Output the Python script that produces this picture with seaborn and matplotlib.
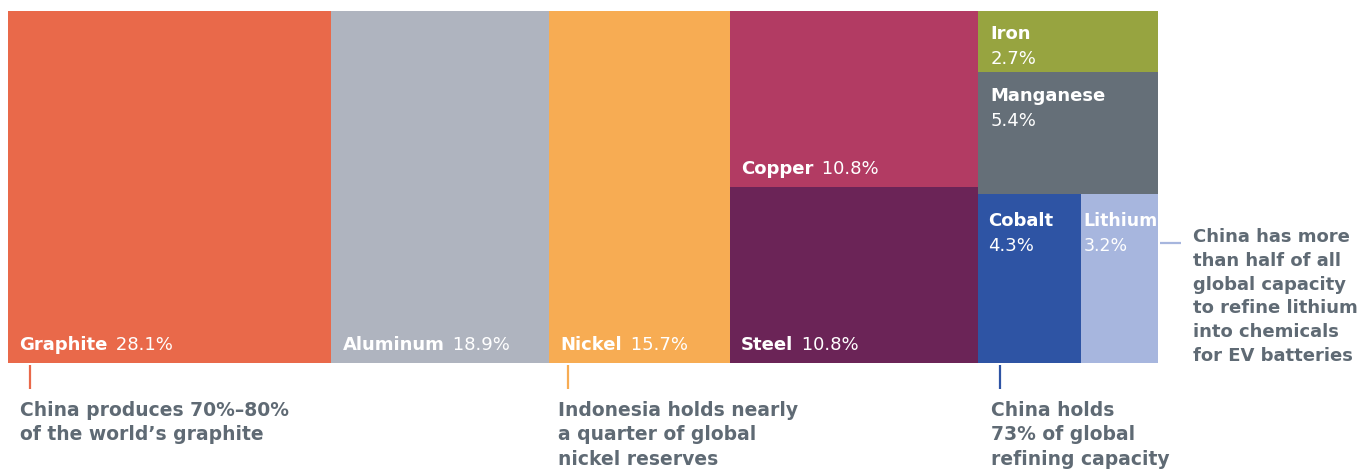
import matplotlib
matplotlib.use("Agg")
import matplotlib.pyplot as plt
import seaborn as sns

sns.set_theme(style="white")
plt.rcParams["font.family"] = ["DejaVu Sans"]

# Share of demand by material (percent)
materials = ["Graphite", "Aluminum", "Nickel", "Copper", "Steel",
             "Iron", "Manganese", "Cobalt", "Lithium"]
shares = [28.1, 18.9, 15.7, 10.8, 10.8, 2.7, 5.4, 4.3, 3.2]
colors = ["#E9694A", "#AFB4BF", "#F7AC53", "#B23B63", "#6B2457",
          "#97A440", "#656F78", "#2E54A4", "#A7B6DE"]

notes = {
    "Graphite": "China produces 70%–80%\nof the world’s graphite",
    "Nickel": "Indonesia holds nearly\na quarter of global\nnickel reserves",
    "Cobalt": "China holds\n73% of global\nrefining capacity",
    "Lithium": "China has more\nthan half of all\nglobal capacity\nto refine lithium\ninto chemicals\nfor EV batteries",
}

val = dict(zip(materials, shares))
col = dict(zip(materials, colors))

# Treemap layout: x in percent units, y from 0 (top) to 1 (bottom)
rects = {}
total = sum(shares)
x = 0.0
for m in ["Graphite", "Aluminum", "Nickel"]:
    rects[m] = (x, 0.0, val[m], 1.0)
    x += val[m]
cs = val["Copper"] + val["Steel"]
rects["Copper"] = (x, 0.0, cs, val["Copper"] / cs)
rects["Steel"] = (x, val["Copper"] / cs, cs, val["Steel"] / cs)
x += cs
top = val["Iron"] + val["Manganese"]
bot = val["Cobalt"] + val["Lithium"]
rw = top + bot
top_h = top / rw
rects["Iron"] = (x, 0.0, rw, top_h * val["Iron"] / top)
rects["Manganese"] = (x, top_h * val["Iron"] / top, rw, top_h * val["Manganese"] / top)
rects["Cobalt"] = (x, top_h, rw * val["Cobalt"] / bot, 1 - top_h)
rects["Lithium"] = (x + rw * val["Cobalt"] / bot, top_h, rw * val["Lithium"] / bot, 1 - top_h)

W, H = 1362, 469
fig = plt.figure(figsize=(W / 100, H / 100), dpi=100)
ax = fig.add_axes([8 / W, 1 - 363 / H, 1150 / W, 352 / H])

for m in materials:
    x0, y0, w, h = rects[m]
    ax.bar(x0, h, width=w, bottom=y0, align="edge", color=col[m],
           edgecolor="none", linewidth=0)

ax.set_xlim(0, total)
ax.set_ylim(1, 0)
ax.axis("off")

fs = 13
white = "white"
# inline labels at bottom-left: bold name followed by the share
for m in ["Graphite", "Aluminum", "Nickel", "Steel", "Copper"]:
    x0, y0, w, h = rects[m]
    t = ax.annotate(m, (x0, y0 + h), xytext=(8, 9.5), textcoords="offset points",
                    ha="left", va="baseline", color=white, fontsize=fs,
                    fontweight="bold")
    ax.annotate(f" {val[m]:.1f}%", (1, 0), xycoords=t, xytext=(2, 0),
                textcoords="offset points", ha="left", va="bottom",
                color=white, fontsize=fs)

# stacked labels at top-left: name, then share on the next line
for m, pad, dy, size in [("Iron", 8.5, 20, fs), ("Manganese", 8.5, 21, fs),
                         ("Cobalt", 7, 23.5, fs), ("Lithium", 1.5, 23.5, 12.5)]:
    x0, y0, w, h = rects[m]
    ax.annotate(m, (x0, y0), xytext=(pad, -dy), textcoords="offset points",
                ha="left", va="baseline", color=white, fontsize=size,
                fontweight="bold")
    ax.annotate(f"{val[m]:.1f}%", (x0, y0), xytext=(pad, -dy - 18),
                textcoords="offset points", ha="left", va="baseline",
                color=white, fontsize=size)

note_color = "#5F6A74"
nfs = 13.5
lsp = 1.37
# callouts below the bars
for m, dx in [("Graphite", 22), ("Nickel", 19), ("Cobalt", 22)]:
    x0, y0, w, h = rects[m]
    lx = x0 + dx / 1150 * total
    ax.plot([lx, lx], [1.005, 1.075], color=col[m],
            lw=1.6, clip_on=False, solid_capstyle="butt")
    ax.annotate(notes[m], (lx, 1), xytext=(-7, -27),
                textcoords="offset points", ha="left", va="top",
                color=note_color, fontsize=nfs, fontweight="bold",
                linespacing=lsp, annotation_clip=False)

# lithium callout to the right
x0, y0, w, h = rects["Lithium"]
ly = y0 + 0.14
ax.plot([x0 + w + 0.15, x0 + w + 2.0], [ly, ly], color=col["Lithium"],
        lw=1.6, clip_on=False, solid_capstyle="butt")
ax.annotate(notes["Lithium"], (x0 + w, ly), xytext=(25, 11),
            textcoords="offset points", ha="left", va="top", color=note_color,
            fontsize=13, fontweight="bold", linespacing=1.42,
            annotation_clip=False)

fig.savefig("out.png", dpi=100, facecolor="white")
